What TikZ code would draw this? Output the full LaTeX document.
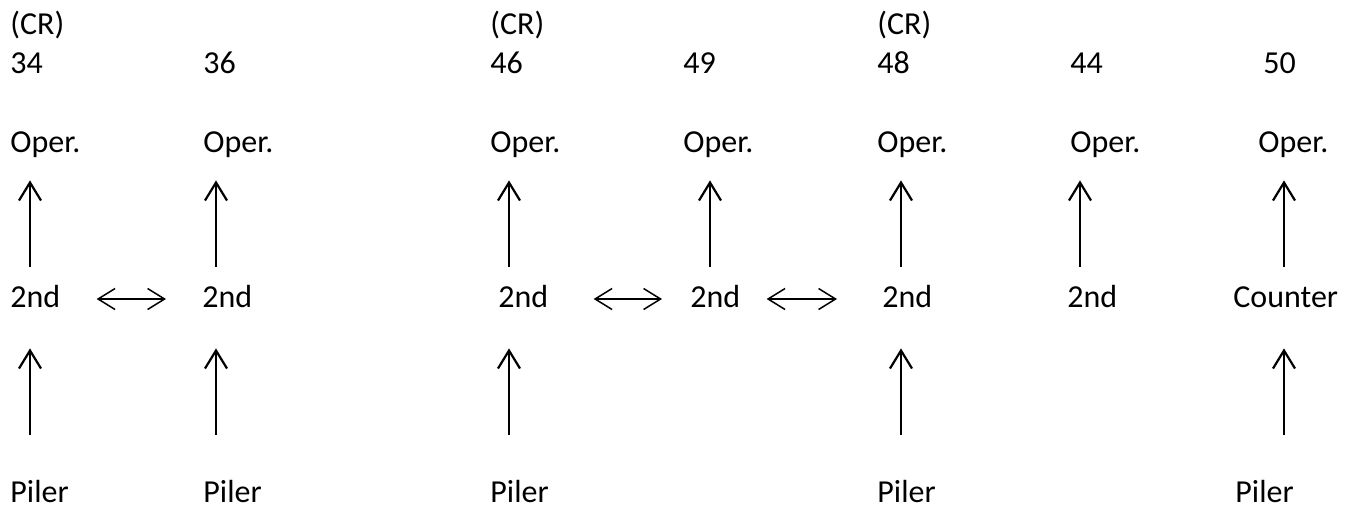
\documentclass[tikz,border=0pt]{standalone}
\usepackage{fontspec}
\setmainfont{Carlito}
\usetikzlibrary{arrows.meta}

\tikzset{
  lbl/.style={anchor=base west, inner sep=0pt, text height=11pt, text depth=3pt, font=\fontsize{16}{19}\selectfont},
  up/.style={-{Straight Barb[length=9pt,width=11pt]}, line width=1.1pt},
  both/.style={{Straight Barb[length=8.5pt,width=10.5pt]}-{Straight Barb[length=8.5pt,width=10.5pt]}, line width=0.75pt}
}

\begin{document}
\begin{tikzpicture}[x=0.5pt,y=-0.5pt]
  \useasboundingbox (0,0) rectangle (1350,510);
  % top labels
  \node[lbl] (cr34) at (10,34) {(CR)};
  \node[lbl] (cr46) at (490,34) {(CR)};
  \node[lbl] (cr48) at (877,34) {(CR)};
  \node[lbl] (n34) at (10,73) {34};
  \node[lbl] (n36) at (203,73) {36};
  \node[lbl] (n46) at (490,73) {46};
  \node[lbl] (n49) at (683,73) {49};
  \node[lbl] (n48) at (877,73) {48};
  \node[lbl] (n44) at (1070,73) {44};
  \node[lbl] (n50) at (1263,73) {50};
  % operators
  \foreach \c/\x in {34/10,36/203,46/490,49/683,48/877,44/1070,50/1258}
    \node[lbl] (op\c) at (\x,152) {Oper.};
  % second row
  \foreach \c/\x in {34/10,36/202,46/498,49/690,48/882,44/1067}
    \node[lbl] (sec\c) at (\x,307) {2nd};
  \node[lbl] (sec50) at (1233,307) {Counter};
  % pilers
  \foreach \c/\x in {34/10,36/203,46/490,48/877,50/1235}
    \node[lbl] (pil\c) at (\x,502) {Piler};

  % arrow columns
  \foreach \c/\x in {34/30,36/216,46/509,49/710,48/901,44/1080,50/1284}
    \coordinate (ax\c) at (\x,0);

  \foreach \c in {34,36,46,49,48,44,50}
    \draw[up, shorten <=9pt, shorten >=11pt] (sec\c.north -| ax\c) -- (op\c.south -| ax\c);
  \foreach \c in {34,36,46,48,50}
    \draw[up, shorten <=22.5pt, shorten >=17.5pt] (pil\c.north -| ax\c) -- (sec\c.south -| ax\c);

  \draw[both, shorten <=18pt, shorten >=18pt] (sec34.east) -- (sec36.west);
  \draw[both, shorten <=22.5pt, shorten >=14pt] (sec46.east) -- (sec49.west);
  \draw[both, shorten <=13pt, shorten >=22.5pt] (sec49.east) -- (sec48.west);
\end{tikzpicture}
\end{document}
